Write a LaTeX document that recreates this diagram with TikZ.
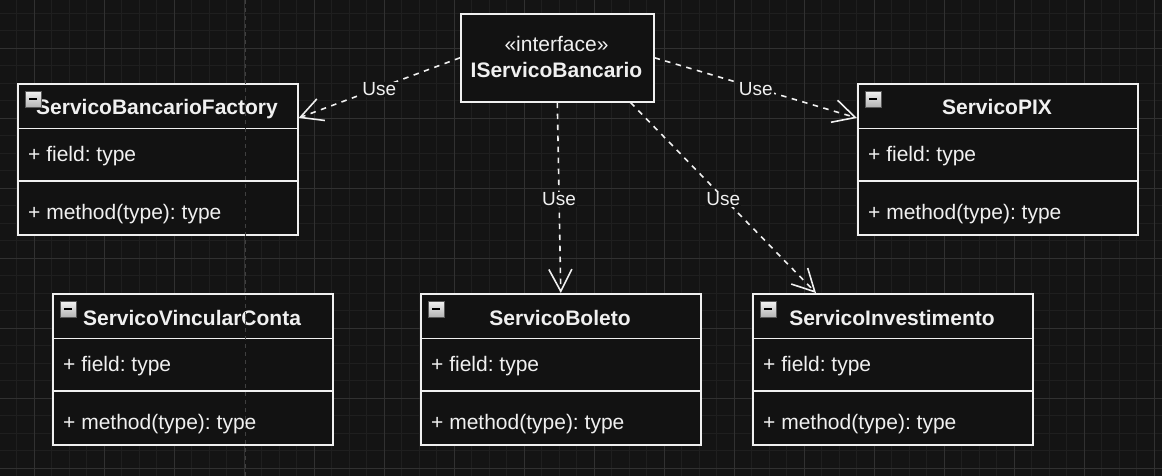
\documentclass[tikz,border=0pt]{standalone}
\usepackage{fontspec}
\setmainfont{Liberation Sans}
\frenchspacing
\usetikzlibrary{arrows.meta,calc}
\definecolor{bgc}{HTML}{141414}
\definecolor{minorc}{HTML}{1F1F1F}
\definecolor{majorc}{HTML}{313131}
\definecolor{fg}{HTML}{F0F0F0}
\definecolor{boxfill}{HTML}{121212}
\definecolor{pagec}{HTML}{404040}
\tikzset{
  x=1pt,y=-1pt,
  minorline/.style={draw=minorc,line width=1pt},
  majorline/.style={draw=majorc,line width=1pt},
  classbox/.style={draw=fg,fill=boxfill,line width=1.6pt,minimum width=280pt,minimum height=151pt,inner sep=0pt,anchor=north west},
  ifacebox/.style={draw=fg,fill=boxfill,line width=1.6pt,minimum width=193pt,minimum height=88pt,inner sep=0pt,anchor=north west},
  sepline/.style={draw=fg,line width=1.6pt},
  titletext/.style={text=fg,font=\fontsize{21}{25}\selectfont\bfseries,inner sep=0pt,anchor=base},
  membertext/.style={text=fg,font=\fontsize{21}{25}\selectfont,inner sep=0pt,anchor=base west},
  usedep/.style={draw=fg,line width=1.6pt,dash pattern=on 5.5pt off 5.5pt,-{Straight Barb[length=22pt,width=23pt,line width=1.6pt]}},
  uselabel/.style={text=fg,font=\fontsize{19}{22}\selectfont,fill=bgc,inner sep=1pt,yshift=-1.5pt},
  iconbox/.style={draw=gray!70!black,line width=1pt,top color=gray!10,bottom color=gray!60,minimum size=16pt,inner sep=0pt,anchor=north west},
}
\newcommand\umlclass[4]{%
  \node[classbox] (#1) at (#2,#3) {};
  \draw[sepline] (#2,#3+45.5) -- (#2+280,#3+45.5);
  \draw[sepline] (#2,#3+98) -- (#2+280,#3+98);
  \node[titletext] (#1-title) at (#2+140,#3+32) {#4};
  \node[iconbox] (#1-icon) at (#2+8,#3+8) {};
  \draw[black,line width=2pt] (#2+12,#3+16) -- (#2+20,#3+16);
  \node[membertext] (#1-field) at (#2+11,#3+78) {+ field: type};
  \node[membertext] (#1-method) at (#2+11,#3+136) {+ method(type): type};
}
\begin{document}
\begin{tikzpicture}
\fill[bgc] (0,0) rectangle (1162,476);
\useasboundingbox (0,0) rectangle (1162,476);
% grid
\foreach \i in {0,...,67} {\draw[minorline] ({-0.7+17.5*\i},0) -- ({-0.7+17.5*\i},476);}
\foreach \i in {0,...,28} {\draw[minorline] (0,{-4.2+17.5*\i}) -- (1162,{-4.2+17.5*\i});}
\foreach \i in {0,...,16} {\draw[majorline] ({34.3+70*\i},0) -- ({34.3+70*\i},476);}
\foreach \i in {0,...,6} {\draw[majorline] (0,{48.3+70*\i}) -- (1162,{48.3+70*\i});}
% classes
\umlclass{fac}{17}{83}{ServicoBancarioFactory}
\umlclass{pix}{857}{83}{ServicoPIX}
\umlclass{vin}{52}{293}{ServicoVincularConta}
\umlclass{bol}{420}{293}{ServicoBoleto}
\umlclass{inv}{752}{293}{ServicoInvestimento}
% interface
\node[ifacebox] (iface) at (460,13) {};
\node[text=fg,font=\fontsize{21}{25}\selectfont,inner sep=0pt,anchor=base] (iface-st) at (556.5,52) {«interface»};
\node[titletext] (iface-name) at (556.5,78) {IServicoBancario};
% page break line
\draw[pagec,line width=1pt,dash pattern=on 4pt off 4pt] (245,0) -- (245,476);
% dependencies
\draw[usedep] (iface.west) -- node[uselabel]{Use} ($(fac.north east)+(0,35)$);
\draw[usedep] (iface.east) -- node[uselabel]{Use} ($(pix.north west)+(0,35)$);
\draw[usedep] (iface.south) -- node[uselabel]{Use} ($(bol.north)+(0,0)$);
\draw[usedep] ($(iface.south east)+(-24,0)$) -- node[uselabel]{Use} ($(inv.north west)+(64,0)$);
\end{tikzpicture}
\end{document}
